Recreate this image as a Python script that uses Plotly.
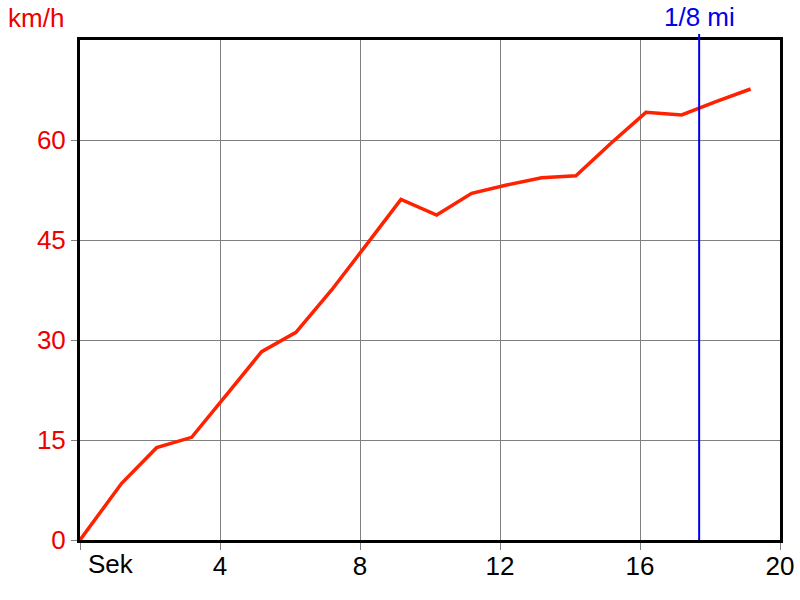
import plotly.graph_objects as go

time_s = [0, 1.19, 2.19, 3.19, 4.19, 5.19, 6.17, 7.19, 8.17, 9.17, 10.19,
          11.19, 12.19, 13.19, 14.17, 15.17, 16.17, 17.19, 18.17, 19.16]
speed_kmh = [0, 8.5, 13.85, 15.4, 21.8, 28.25, 31.15, 37.5, 44.2, 51.1, 48.75,
             52.0, 53.25, 54.35, 54.65, 59.5, 64.15, 63.75, 65.75, 67.65]
eighth_mile_t = 17.69
x_tickvals = [0, 4, 8, 12, 16, 20]
x_ticktext = ["", "4", "8", "12", "16", "20"]
y_tickvals = [0, 15, 30, 45, 60]

FONT = "Liberation Sans, Arial, sans-serif"

fig = go.Figure()
fig.add_trace(go.Scatter(x=time_s, y=speed_kmh, mode="lines",
                         line=dict(color="#ff2200", width=3.5), hoverinfo="skip"))

fig.add_shape(type="line", xref="x", yref="paper", x0=eighth_mile_t, x1=eighth_mile_t,
              y0=0, y1=1.012, line=dict(color="#0000ee", width=2), layer="above")

fig.add_annotation(x=eighth_mile_t, xref="x", y=1.046, yref="paper", text="1/8 mi",
                   showarrow=False, xanchor="center", yanchor="middle",
                   font=dict(family=FONT, size=26, color="#0000ee"))
fig.add_annotation(x=-0.106, xref="paper", y=1.044, yref="paper", text="km/h",
                   showarrow=False, xanchor="left", yanchor="middle",
                   font=dict(family=FONT, size=26, color="#ee0000"))
fig.add_annotation(x=0.18, xref="x", y=-0.048, yref="paper", text="Sek",
                   showarrow=False, xanchor="left", yanchor="middle",
                   font=dict(family=FONT, size=26, color="black"))

fig.update_layout(
    width=800, height=600,
    margin=dict(l=80, r=20, t=40, b=60, autoexpand=False),
    paper_bgcolor="white", plot_bgcolor="white",
    showlegend=False,
    font=dict(family=FONT),
)
fig.update_xaxes(range=[0, 20], tickvals=x_tickvals, ticktext=x_ticktext,
                 automargin=False, ticklabelstandoff=-6,
                 showgrid=True, gridcolor="#808080", gridwidth=1,
                 ticks="outside", ticklen=7, tickcolor="#808080", tickwidth=1,
                 showline=True, linecolor="black", linewidth=3, mirror=True,
                 zeroline=False, tickfont=dict(family=FONT, size=26, color="black"))
fig.update_yaxes(range=[0, 75], tickvals=y_tickvals,
                 automargin=False,
                 showgrid=True, gridcolor="#808080", gridwidth=1,
                 ticks="outside", ticklen=6, tickcolor="#808080", tickwidth=1,
                 showline=True, linecolor="black", linewidth=3, mirror=True,
                 zeroline=False, tickfont=dict(family=FONT, size=26, color="#ee0000"))

fig.write_html("out.html",
               config={"displayModeBar": False, "staticPlot": True},
               post_script="document.body.style.margin='0';document.body.style.overflow='hidden';")
